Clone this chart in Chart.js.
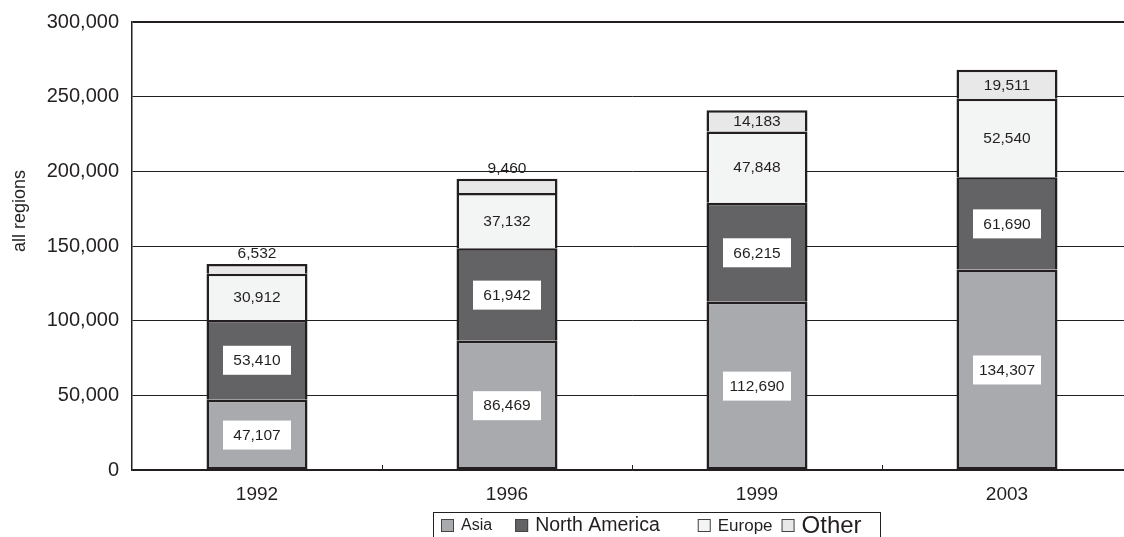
<!DOCTYPE html>
<html>
<head>
<meta charset="utf-8">
<script src="https://cdn.jsdelivr.net/npm/chart.js@4.4.1/dist/chart.umd.min.js"></script>
<style>
  html, body { margin: 0; padding: 0; background: #fff; overflow: hidden; }
  #wrap { position: relative; width: 1132px; height: 537px; }
</style>
</head>
<body>
<div id="wrap"><canvas id="c"></canvas></div>
<script>
// Years on the category axis
const years = ['1992', '1996', '1999', '2003'];

// Values per region, stacked bottom to top
const asia = [47107, 86469, 112690, 134307];
const northAmerica = [53410, 61942, 66215, 61690];
const europe = [30912, 37132, 47848, 52540];
const other = [6532, 9460, 14183, 19511];

const regionNames = ['Asia', 'North America', 'Europe', 'Other'];
const yTicks = [0, 50000, 100000, 150000, 200000, 250000, 300000];
const yTitle = 'all regions';

const INK = '#231f20';
const FONT = '"Liberation Sans", Arial, sans-serif';
const fills = ['#a9aaad', '#636365', '#f3f4f4', '#e8e8e9'];
const legendSizes = [16, 19.5, 17, 24];
const legendGaps = [23, 38, 9, 0];

const fmt = v => v.toLocaleString('en-US');

// Value labels: white boxes on the two darker segments, plain text on the
// light ones, and above the bar when the top segment is too thin.
const valueLabels = {
  id: 'valueLabels',
  afterDatasetsDraw(chart) {
    const ctx = chart.ctx;
    ctx.save();
    ctx.font = '15.5px ' + FONT;
    ctx.textAlign = 'center';
    ctx.textBaseline = 'middle';
    chart.data.datasets.forEach((ds, di) => {
      const meta = chart.getDatasetMeta(di);
      meta.data.forEach((bar, i) => {
        const v = ds.data[i];
        const txt = fmt(v);
        const top = Math.min(bar.y, bar.base);
        const bottom = Math.max(bar.y, bar.base);
        const h = bottom - top;
        let y = (top + bottom) / 2;
        if (di <= 1) {
          ctx.fillStyle = '#ffffff';
          ctx.fillRect(bar.x - 34, y - 14, 68, 29);
        }
        if (h < 16) y = top - 11;
        ctx.fillStyle = INK;
        ctx.fillText(txt, bar.x, y + 1);
      });
    });
    ctx.restore();
  }
};

// Short upward ticks on the x axis between categories, and the y axis title
const axisExtras = {
  id: 'axisExtras',
  afterDraw(chart) {
    const xs = chart.scales.x;
    const ctx = chart.ctx;
    const y0 = chart.chartArea.bottom;
    ctx.save();
    ctx.strokeStyle = INK;
    ctx.lineWidth = 1;
    for (let i = 0; i < years.length - 1; i++) {
      const x = Math.round((xs.getPixelForValue(i) + xs.getPixelForValue(i + 1)) / 2) + 0.5;
      ctx.beginPath();
      ctx.moveTo(x, y0);
      ctx.lineTo(x, y0 - 5);
      ctx.stroke();
    }
    ctx.translate(20, 211);
    ctx.rotate(-Math.PI / 2);
    ctx.font = '18px ' + FONT;
    ctx.fillStyle = INK;
    ctx.textAlign = 'center';
    ctx.textBaseline = 'middle';
    ctx.fillText(yTitle, 0, 0);
    ctx.restore();
  }
};

// Boxed legend under the axis
const boxedLegend = {
  id: 'boxedLegend',
  afterDraw(chart) {
    const ctx = chart.ctx;
    const cy = 525;
    ctx.save();
    ctx.strokeStyle = INK;
    ctx.lineWidth = 1;
    ctx.strokeRect(433.5, 512.5, 447, 40);
    let x = 441;
    chart.data.datasets.forEach((ds, i) => {
      ctx.fillStyle = ds.backgroundColor;
      ctx.fillRect(x, cy - 6, 13, 13);
      ctx.strokeStyle = '#444';
      ctx.strokeRect(x + 0.5, cy - 5.5, 12, 12);
      x += 20;
      ctx.font = legendSizes[i] + 'px ' + FONT;
      ctx.fillStyle = INK;
      ctx.textAlign = 'left';
      ctx.textBaseline = 'middle';
      ctx.fillText(ds.label, x, cy + 1);
      x += ctx.measureText(ds.label).width + legendGaps[i];
    });
    ctx.restore();
  }
};

const seriesValues = [asia, northAmerica, europe, other];

new Chart(document.getElementById('c'), {
  type: 'bar',
  data: {
    labels: years,
    datasets: seriesValues.map((vals, i) => ({
      label: regionNames[i],
      data: vals,
      backgroundColor: fills[i],
      borderColor: INK,
      borderWidth: 2.5,
      borderSkipped: i === 0 ? false : 'start',
      categoryPercentage: 1,
      barPercentage: 0.404
    }))
  },
  options: {
    responsive: true,
    maintainAspectRatio: false,
    animation: false,
    layout: { padding: { top: 22, right: 0, bottom: 0, left: 0 } },
    plugins: {
      legend: { display: false },
      tooltip: { enabled: false }
    },
    scales: {
      x: {
        stacked: true,
        grid: { display: false, drawTicks: false },
        border: { color: INK, width: 1.5 },
        ticks: { color: INK, font: { family: FONT, size: 19 }, padding: 13 },
        afterFit(s) { s.height = 67; }
      },
      y: {
        stacked: true,
        min: 0,
        max: 300000,
        afterBuildTicks(s) { s.ticks = yTicks.map(v => ({ value: v })); },
        grid: {
          color: INK,
          lineWidth: c => (c.tick && c.tick.value === 300000 ? 2 : 1),
          drawTicks: false
        },
        border: { color: INK, width: 1.5 },
        ticks: {
          color: INK,
          font: { family: FONT, size: 20 },
          padding: 13,
          callback: v => fmt(v)
        },
        afterFit(s) {
          s.width = 132;
          s.paddingTop = 0;
          s.paddingBottom = 0;
        }
      }
    }
  },
  plugins: [valueLabels, axisExtras, boxedLegend]
});
</script>
</body>
</html>
